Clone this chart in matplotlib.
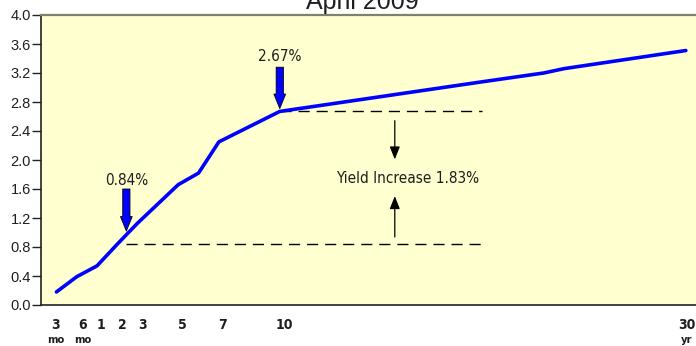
import numpy as np
import matplotlib
matplotlib.use("Agg")
import matplotlib.pyplot as plt
import matplotlib.transforms as mtransforms

# ---- data ----
maturity_years = [0.25, 0.5, 1, 2, 3, 5, 6, 7, 8, 10, 20, 23, 24, 30]
yields = [0.18, 0.39, 0.54, 0.84, 1.13, 1.66, 1.82, 2.25, 2.39, 2.67, 3.08, 3.20, 3.26, 3.51]
tick_years = [0.25, 0.5, 1, 2, 3, 5, 7, 10, 30]
tick_numbers = ["3", "6", "1", "2", "3", "5", "7", "10", "30"]
tick_units = ["mo", "mo", "", "", "", "", "", "", "yr"]
y_ticks = [0.0, 0.4, 0.8, 1.2, 1.6, 2.0, 2.4, 2.8, 3.2, 3.6, 4.0]
short_year, short_yield = 2, 0.84
long_year, long_yield = 10, 2.67
title = "April 2009"

# label pixel offsets (style only)
tick_offsets_px = [-1, 6, 4, 5, 5, 4, 4, 5, 1]

COND = dict(family="DejaVu Sans", stretch="condensed")
SANS = ["Liberation Sans", "DejaVu Sans"]
TXT = "#1E1E1E"
PX = 20.3  # pixels per year on the linear part


def fwd(x):
    x = np.asarray(x, dtype=float)
    xs = np.maximum(x, 1e-9)
    return np.where(x >= 1, x, 1 + np.log2(xs))


def inv(p):
    p = np.asarray(p, dtype=float)
    return np.where(p >= 1, p, 2.0 ** (np.minimum(p, 1) - 1))


def shift(x, px):
    return float(inv(fwd(x) + px / PX))


fig = plt.figure(figsize=(6.96, 3.46), dpi=100)
ax = fig.add_axes([41 / 696, 1 - 305 / 346, 1 - 41 / 696 + 0.01, (305 - 15) / 346])
ax.set_facecolor("#FFFFD0")
ax.set_xscale("function", functions=(fwd, inv))
ax.set_xlim(2 ** (-2.76), 30.5 + 0.01 * 696 / PX)
ax.set_ylim(0, 4.0)

ax.plot(maturity_years, yields, color="#0000FF", lw=2.6, solid_joinstyle="round",
        solid_capstyle="round", zorder=5)

# spines
ax.spines["top"].set_color("#80806C")
ax.spines["top"].set_linewidth(1.6)
ax.spines["right"].set_visible(False)
for s in ("left", "bottom"):
    ax.spines[s].set_color("#222222")
    ax.spines[s].set_linewidth(1.2)

ax.set_yticks(y_ticks)
ax.set_yticklabels([f"{v:.1f}" for v in y_ticks], family=SANS, fontsize=10.5, color=TXT)
ax.tick_params(axis="y", length=6.5, width=1, color="#222222", pad=0.8)

# x tick labels
ax.set_xticks(tick_years)
ax.set_xticklabels([])
ax.tick_params(axis="x", length=0)
xt = ax.get_xaxis_transform()
for yr, num, unit, dx in zip(tick_years, tick_numbers, tick_units, tick_offsets_px):
    off = mtransforms.ScaledTranslation(dx / 100, 0, fig.dpi_scale_trans)
    ax.text(yr, -0.068, num, transform=xt + off, ha="center", va="center",
            fontsize=10, fontweight="bold", color=TXT, clip_on=False, **COND)
    if unit:
        ax.text(yr, -0.122, unit, transform=xt + off, ha="center", va="center",
                fontsize=8, fontweight="bold", color=TXT, clip_on=False, **COND)

# dashed reference lines
x_start_lower = shift(short_year, 9)
ax.plot([long_year, shift(long_year, 202)], [long_yield, long_yield], color="black",
        lw=1.0, dashes=(8, 5), zorder=3)
ax.plot([x_start_lower, shift(long_year, 206)], [short_yield, short_yield], color="black",
        lw=1.0, dashes=(8, 5), zorder=3)

# black vertical arrows for the yield increase
x_mid = shift(long_year, 115)
ax.annotate("", xy=(x_mid, 1.97), xytext=(x_mid, 2.58),
            arrowprops=dict(arrowstyle="-|>,head_length=0.55,head_width=0.22",
                            color="black", lw=0.9, mutation_scale=14))
ax.annotate("", xy=(x_mid, 1.54), xytext=(x_mid, 0.90),
            arrowprops=dict(arrowstyle="-|>,head_length=0.55,head_width=0.22",
                            color="black", lw=0.9, mutation_scale=14))
ax.text(shift(long_year, 128), 1.74, f"Yield Increase {long_yield - short_yield:.2f}%",
        ha="center", va="center", fontsize=11, color=TXT, **COND)

# blue arrows with value labels
for xx, tip, tail in [(long_year, long_yield + 0.04, long_yield + 0.61),
                      (x_start_lower, 1.02, 1.60)]:
    ax.annotate("", xy=(xx, tip), xytext=(xx, tail),
                arrowprops=dict(arrowstyle="simple,head_length=0.8,head_width=0.65,tail_width=0.4",
                                fc="#0000FF", ec="black", lw=0.6, mutation_scale=13,
                                shrinkA=0, shrinkB=0), zorder=6)
ax.text(long_year, long_yield + 0.76, f"{long_yield:.2f}%", ha="center", va="center",
        fontsize=11, color=TXT, **COND)
ax.text(x_start_lower, 1.72, f"{short_yield:.2f}%", ha="center", va="center",
        fontsize=11, color=TXT, **COND)

fig.text(362 / 696, 1 - 8.5 / 346, title, ha="center", va="baseline", family=SANS,
         fontsize=18, color=TXT)

fig.savefig("out.png", dpi=100, facecolor="white")
